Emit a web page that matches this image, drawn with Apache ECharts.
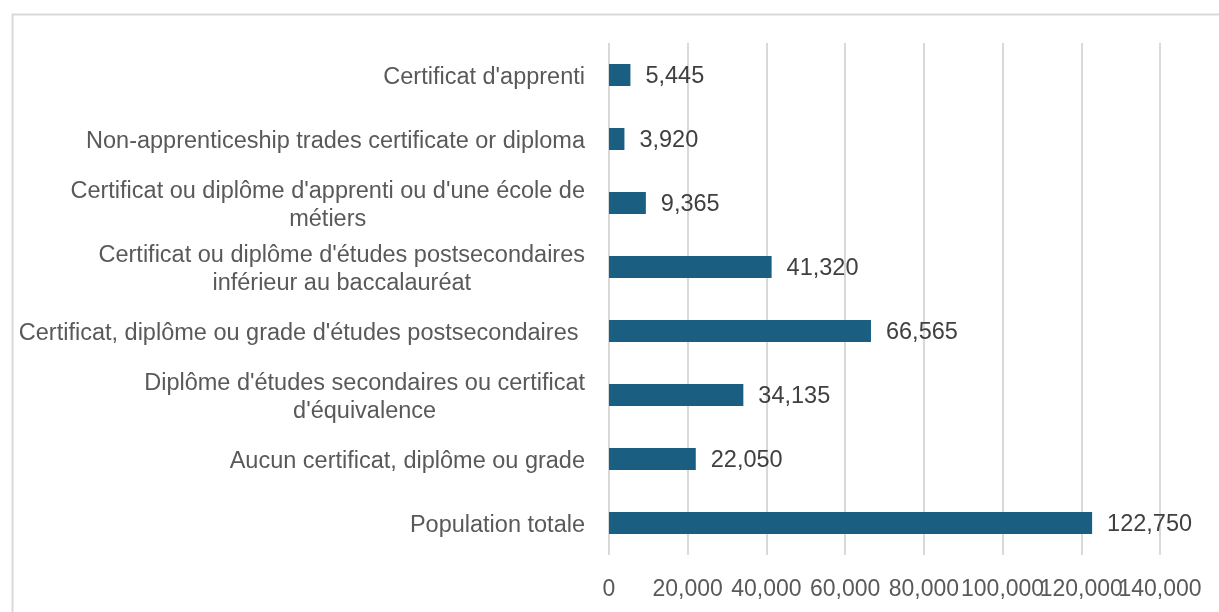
<!DOCTYPE html>
<html>
<head>
<meta charset="utf-8">
<script src="https://cdn.jsdelivr.net/npm/echarts@6/dist/echarts.min.js"></script>
<style>
  html, body { margin: 0; padding: 0; background: #ffffff; }
  #chart { width: 1219px; height: 612px; }
</style>
</head>
<body>
<div id="chart"></div>
<script>
// Categories, top to bottom (lines split with \n where the label wraps)
const categories = [
  "Certificat d'apprenti",
  "Non-apprenticeship trades certificate or diploma",
  "Certificat ou diplôme d'apprenti ou d'une école de\nmétiers",
  "Certificat ou diplôme d'études postsecondaires\ninférieur au baccalauréat",
  "Certificat, diplôme ou grade d'études postsecondaires ",
  "Diplôme d'études secondaires ou certificat\nd'équivalence",
  "Aucun certificat, diplôme ou grade",
  "Population totale"
];
const values = [5445, 3920, 9365, 41320, 66565, 34135, 22050, 122750];

const xMin = 0;
const xMax = 140000;
const xStep = 20000;

const fmt = v => Number(v).toLocaleString('en-US');
const FONT = '"Liberation Sans", Arial, sans-serif';
const CAT_SIZE = 23.5;

// The tick labels touch each other; they are split over two overlaid axes
// (even / odd ticks) so none of them gets dropped by overlap handling.
function valueAxis(parity, withGrid) {
  return {
    type: 'value',
    position: 'bottom',
    offset: 0,
    min: xMin, max: xMax, interval: xStep,
    axisLine: { show: false },
    axisTick: { show: false },
    splitLine: { show: withGrid, lineStyle: { color: '#d9d9d9', width: 2 } },
    axisLabel: {
      color: '#595959', fontFamily: FONT, fontSize: 23, margin: 23,
      formatter: v => (Math.round((v - xMin) / xStep) % 2 === parity ? fmt(v) : '')
    }
  };
}

const chart = echarts.init(document.getElementById('chart'), null, { renderer: 'canvas' });

chart.setOption({
  backgroundColor: '#ffffff',
  animation: false,
  graphic: [{
    type: 'rect',
    left: 10, top: 12,
    shape: { x: 0, y: 0, width: 1215, height: 610 },
    style: { fill: 'none', stroke: '#d9d9d9', lineWidth: 2 },
    silent: true
  }],
  grid: { left: 609, right: 59, top: 43, bottom: 57, containLabel: false },
  xAxis: [valueAxis(0, true), valueAxis(1, false)],
  yAxis: {
    type: 'category',
    data: categories,
    inverse: true,
    axisLine: { show: false },
    axisTick: { show: false },
    splitLine: { show: false },
    axisLabel: {
      margin: 24,
      padding: [5, 0, 0, 0],
      color: '#595959', fontFamily: FONT, fontSize: CAT_SIZE, lineHeight: 28,
      formatter: v => v.split('\n').map(s => '{c|' + s + '}').join('\n'),
      rich: {
        c: { align: 'center', color: '#595959', fontFamily: FONT, fontSize: CAT_SIZE, lineHeight: 28 }
      }
    }
  },
  series: [{
    type: 'bar',
    xAxisIndex: 0,
    data: values,
    barWidth: 22,
    itemStyle: { color: '#1a5f82' },
    label: {
      show: true, position: 'right', distance: 15, offset: [0, 2],
      color: '#404040', fontFamily: FONT, fontSize: 23.5,
      formatter: p => fmt(p.value)
    }
  }]
});
</script>
</body>
</html>
